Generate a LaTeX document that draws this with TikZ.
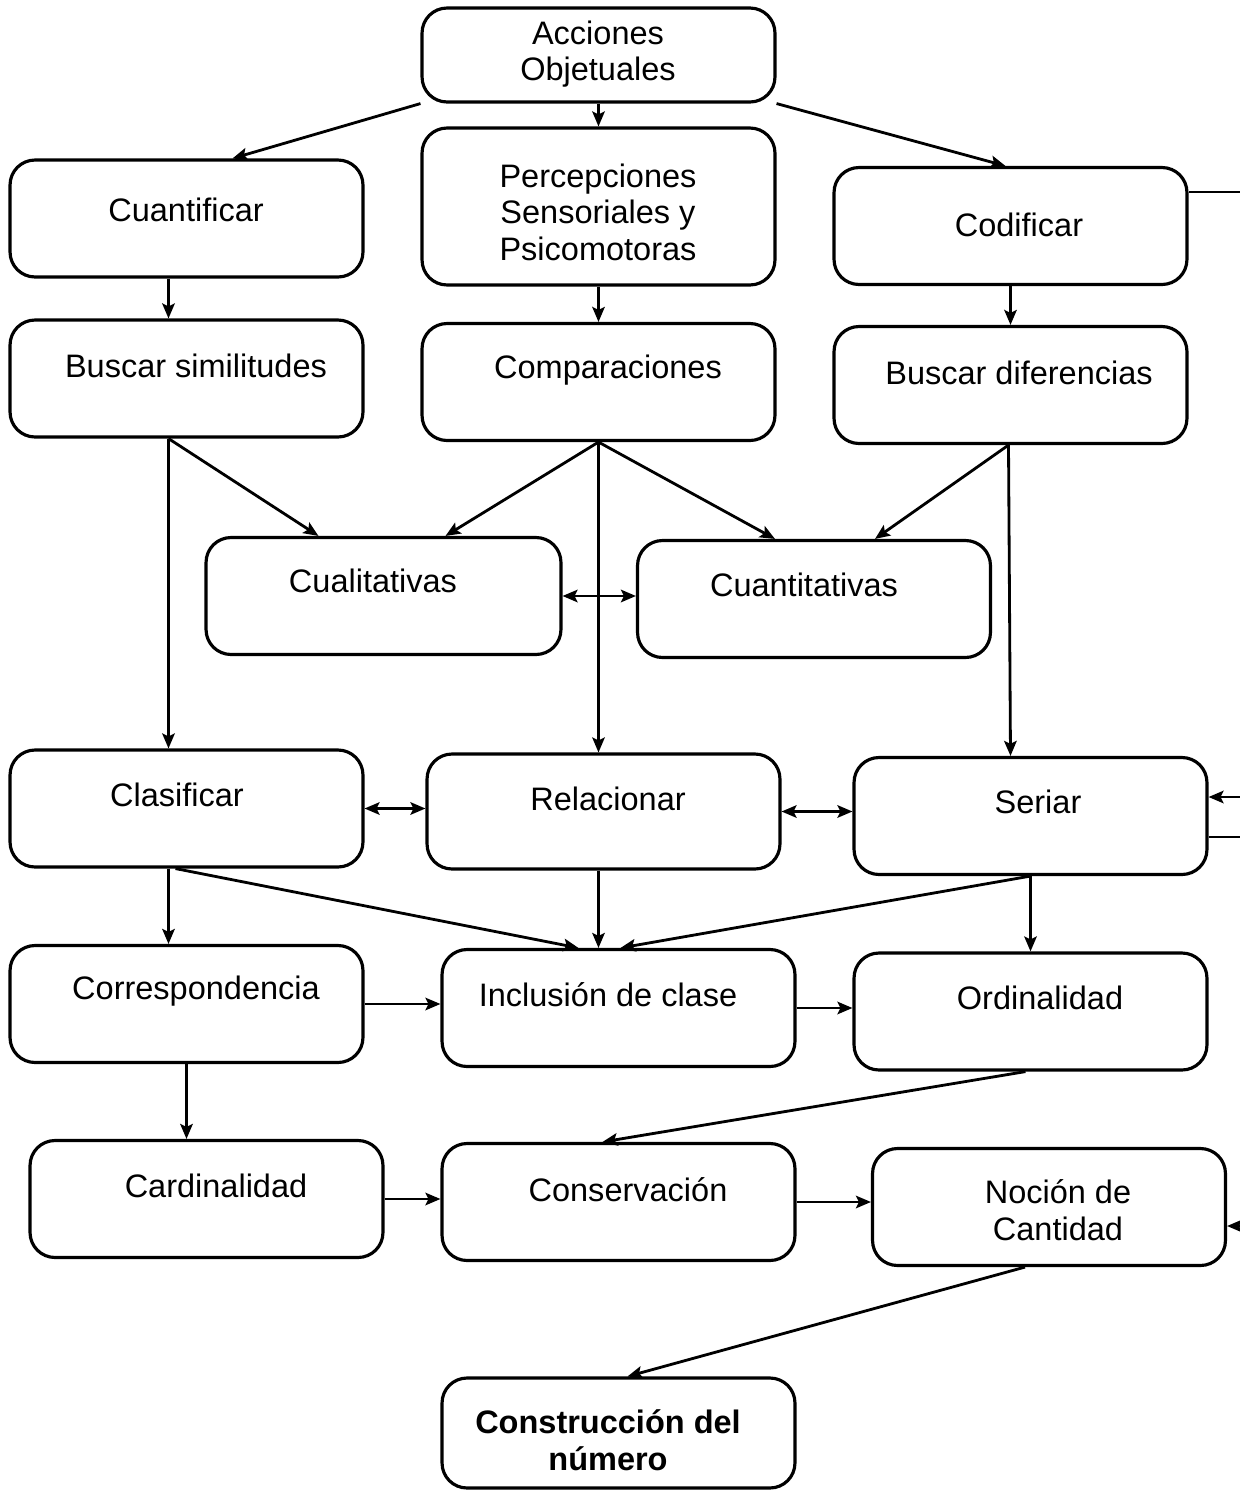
\documentclass[tikz,border=0pt]{standalone}
\usepackage{fontspec}
\setmainfont{Liberation Sans}
\usetikzlibrary{calc,arrows.meta}
\tikzset{
	cbox/.style={draw=black,line width=1.8pt,rounded corners=0.5cm,minimum width=7.06cm,minimum height=2.34cm,inner sep=0pt},
	ctext/.style={align=center,font=\fontsize{18.5}{20.8}\selectfont,inner sep=0pt},
	link/.style={draw=black,line width=1.6pt},
	flow/.style={-{Stealth[length=3mm,width=2.5mm,inset=0.6mm]},line width=1.6pt},
	both/.style={{Stealth[length=3mm,width=2.5mm,inset=0.6mm]}-{Stealth[length=3mm,width=2.5mm,inset=0.6mm]},line width=1.6pt}
}

\begin{document}
\begin{tikzpicture}[x=0.02cm,y=-0.02cm]
	\useasboundingbox (0,0) rectangle (1240,1491);
	% boxes
	\node[cbox,minimum height=1.88cm] (acc) at (598.5,55) {};
	\node[cbox] (cuant) at (186.5,218.5) {};
	\node[cbox,minimum height=3.14cm] (perc) at (598.5,206.5) {};
	\node[cbox] (codif) at (1010.5,226) {};
	\node[cbox] (bsim) at (186.5,378.5) {};
	\node[cbox] (comp) at (598.5,382) {};
	\node[cbox] (bdif) at (1010.5,385) {};
	\node[cbox,minimum width=7.1cm] (cual) at (383.5,596) {};
	\node[cbox] (cuantv) at (814,599) {};
	\node[cbox] (clas) at (186.5,808.5) {};
	\node[cbox,minimum height=2.3cm] (rel) at (603.5,811.5) {};
	\node[cbox] (ser) at (1030.5,816) {};
	\node[cbox] (corr) at (186.5,1004) {};
	\node[cbox] (incl) at (618.5,1008) {};
	\node[cbox] (ord) at (1030.5,1011.5) {};
	\node[cbox] (card) at (206.5,1199) {};
	\node[cbox] (cons) at (618.5,1202) {};
	\node[cbox] (noc) at (1049,1207) {};
	\node[cbox,minimum height=2.2cm] (constr) at (618.5,1433) {};
	% texts
	\node[ctext] (tacc) at (598,54) {Acciones\\Objetuales};
	\node[ctext] (tcuant) at (186,210) {Cuantificar};
	\node[ctext] (tperc) at (598,212) {Percepciones\\Sensoriales y\\Psicomotoras};
	\node[ctext] (tcodif) at (1019,225) {Codificar};
	\node[ctext] (tbsim) at (196,366) {Buscar similitudes};
	\node[ctext] (tcomp) at (608,370) {Comparaciones};
	\node[ctext] (tbdif) at (1019,373) {Buscar diferencias};
	\node[ctext] (tcual) at (373,581) {Cualitativas};
	\node[ctext] (tcuantv) at (804,585) {Cuantitativas};
	\node[ctext] (tclas) at (177,795) {Clasificar};
	\node[ctext] (trel) at (608,799) {Relacionar};
	\node[ctext] (tser) at (1038,802) {Seriar};
	\node[ctext] (tcorr) at (196,991) {Correspondencia};
	\node[ctext] (tincl) at (608,995) {Inclusión de clase};
	\node[ctext] (tord) at (1040,998) {Ordinalidad};
	\node[ctext] (tcard) at (216,1186) {Cardinalidad};
	\node[ctext] (tcons) at (628,1190) {Conservación};
	\node[ctext] (tnoc) at (1058,1210) {Noción de\\Cantidad};
	\node[ctext,font=\fontsize{18.5}{20.8}\selectfont\bfseries] (tconstr) at (608,1440) {Construcción del\\número};
	% free ends at the right edge
	\coordinate (out1) at (1240,192);
	\coordinate (in1) at (1240,797);
	\coordinate (out2) at (1240,837);
	\coordinate (in2) at (1240,1226);
	% connectors
	\draw[flow] (acc.south west) -- ($(cuant.north)+(46,0)$);
	\draw[flow] (acc.south) -- (perc.north);
	\draw[flow] (acc.south east) -- ($(codif.north)+(-5,0)$);
	\draw[flow] ($(cuant.south)+(-18,0)$) -- ($(bsim.north)+(-18,0)$);
	\draw[flow] (perc.south) -- (comp.north);
	\draw[flow] (codif.south) -- (bdif.north);
	\draw[flow] ($(bsim.south)+(-18,0)$) -- ($(cual.north)+(-65,0)$);
	\draw[flow] ($(bsim.south)+(-18,0)$) -- ($(clas.north)+(-18,0)$);
	\draw[flow] (comp.south) -- ($(cual.north)+(62,0)$);
	\draw[flow] (comp.south) -- ($(cuantv.north)+(-39,0)$);
	\draw[flow] (comp.south) -- ($(rel.north)+(-5,0)$);
	\draw[flow] ($(bdif.south)+(-2,0)$) -- ($(cuantv.north)+(61,0)$);
	\draw[flow] ($(bdif.south)+(-2,0)$) -- ($(ser.north)+(-20,0)$);
	\draw[both] (cual.east) -- (cual.east -| cuantv.west);
	\draw[both] (clas.east) -- (clas.east -| rel.west);
	\draw[both] (rel.east) -- (rel.east -| ser.west);
	\draw[flow] ($(clas.south)+(-18,0)$) -- ($(corr.north)+(-18,0)$);
	\draw[flow] ($(clas.south)+(-11,0)$) -- ($(incl.north)+(-40,0)$);
	\draw[flow] ($(rel.south)+(-5,0)$) -- ($(incl.north)+(-20,0)$);
	\draw[flow] (ser.south) -- ($(incl.north)+(2,0)$);
	\draw[flow] (ser.south) -- (ord.north);
	\draw[flow] (corr.east) -- (corr.east -| incl.west);
	\draw[flow] (incl.east) -- (incl.east -| ord.west);
	\draw[flow] (corr.south) -- ($(card.north)+(-20,0)$);
	\draw[flow] ($(ord.south)+(-5,0)$) -- ($(cons.north)+(-16,0)$);
	\draw[flow] (card.east) -- (card.east -| cons.west);
	\draw[flow] (cons.east) -- (cons.east -| noc.west);
	\draw[flow] ($(noc.south)+(-24,0)$) -- ($(constr.north)+(9,0)$);
	\draw[link] (out1 -| codif.east) -- (out1);
	\draw[flow] (in1) -- (in1 -| ser.east);
	\draw[link] (out2 -| ser.east) -- (out2);
	\draw[flow] (in2) -- (in2 -| noc.east);
\end{tikzpicture}
\end{document}
